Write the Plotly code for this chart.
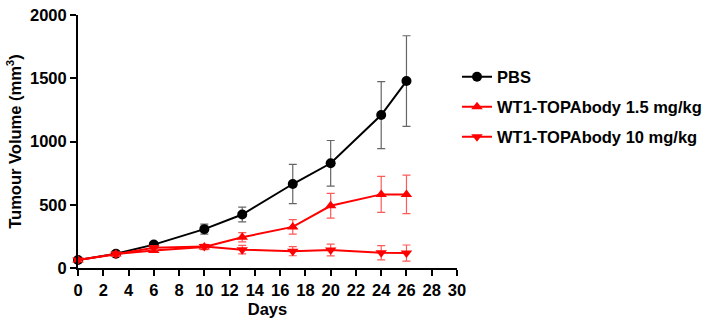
import plotly.graph_objects as go

days = [0, 3, 6, 10, 13, 17, 20, 24, 26]
pbs = [63, 112, 185, 307, 423, 664, 828, 1209, 1478]
pbs_err = [12, 20, 20, 40, 58, 155, 180, 265, 358]
low = [63, 110, 138, 166, 243, 325, 492, 582, 582]
low_err = [10, 15, 15, 20, 36, 58, 98, 142, 152]
high = [63, 108, 160, 170, 145, 133, 142, 121, 118]
high_err = [10, 12, 15, 15, 34, 36, 46, 56, 64]
names = ["PBS", "WT1-TOPAbody 1.5 mg/kg", "WT1-TOPAbody 10 mg/kg"]

FONT = "Liberation Sans, Arial, sans-serif"
FS = 16.5

fig = go.Figure()
series = [
    (pbs, pbs_err, "black", "#666666", "circle"),
    (low, low_err, "#ff0000", "#ff5a5a", "triangle-up"),
    (high, high_err, "#ff0000", "#ff5a5a", "triangle-down"),
]
legend_ids = ["legend", "legend2", "legend3"]
for i, (y, e, c, ec, sym) in enumerate(series):
    fig.add_trace(go.Scatter(
        x=days, y=y, name=names[i], mode="lines+markers",
        line=dict(color=c, width=2),
        marker=dict(symbol=sym, size=10, color=c),
        error_y=dict(type="data", array=e, visible=True, color=ec, thickness=1.2, width=4),
        legend=legend_ids[i], showlegend=True, cliponaxis=False,
    ))

leg_common = dict(x=1.0, xanchor="left", yanchor="middle",
                  font=dict(size=FS, weight=700), visible=True,
                  bgcolor="rgba(0,0,0,0)", itemwidth=30)

fig.update_layout(
    width=706, height=321,
    showlegend=True,
    margin=dict(l=78, r=249, t=15, b=53, autoexpand=False),
    plot_bgcolor="white", paper_bgcolor="white",
    font=dict(family=FONT, size=FS, color="black", weight=700),
    legend=dict(y=0.755, **leg_common),
    legend2=dict(y=0.636, **leg_common),
    legend3=dict(y=0.518, **leg_common),
    xaxis=dict(range=[0, 30], tickmode="linear", tick0=0, dtick=2,
               showgrid=False, zeroline=False, showline=True, linecolor="black",
               linewidth=2, ticks="outside", ticklen=6, tickwidth=2, tickcolor="black",
               automargin=False,
               title=dict(text="Days", standoff=6, font=dict(size=FS, weight=700)),
               tickfont=dict(size=FS, weight=700)),
    yaxis=dict(range=[0, 2000], tickmode="linear", tick0=0, dtick=500,
               showgrid=False, zeroline=False, showline=True, linecolor="black",
               linewidth=2, ticks="outside", ticklen=6, tickwidth=2, tickcolor="black",
               automargin=False,
               title=dict(text="Tumour Volume (mm<sup>3</sup>)", standoff=4,
                          font=dict(size=FS, weight=700)),
               tickfont=dict(size=FS, weight=700)),
)

fig.write_html("out.html")
